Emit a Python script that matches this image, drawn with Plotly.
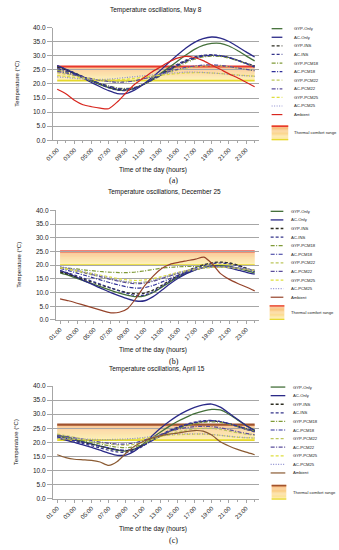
import plotly.graph_objects as go

W, H = 339, 550

# ---------------- data ----------------
hours = list(range(1, 25))
tick_hours = list(range(1, 24, 2))
tick_labels = [f"{h:02d}:00" for h in tick_hours]
y_ticks = [0, 5, 10, 15, 20, 25, 30, 35, 40]
y_tick_labels = [f"{v:.1f}" for v in y_ticks]

series_names = ["GYP-Only", "AC-Only", "GYP-INS", "AC-INS", "GYP-PCM18", "AC-PCM18",
                "GYP-PCM22", "AC-PCM22", "GYP-PCM25", "AC-PCM25", "Ambient"]
panel_titles = ["Temperature oscillations, May 8",
                "Temperature oscillations, December 25",
                "Temperature oscillations, April 15"]
panel_captions = ["(a)", "(b)", "(c)"]
comfort_label = "Thermal comfort range"
x_title = "Time of the day (hours)"
y_title = "Temperature (°C)"

# May 8
may_gyp_only = [26.3, 25.2, 23.9, 22.5, 21.1, 19.8, 18.7, 17.9, 17.8, 18.4, 19.8, 21.6,
                23.6, 25.8, 28.1, 30.3, 32.3, 33.7, 34.4, 34.4, 33.5, 31.9, 30.0, 28.2]
may_ac_only = [26.5, 25.2, 23.7, 22.1, 20.5, 19.0, 17.6, 16.6, 16.6, 17.8, 19.8, 22.2,
               24.8, 27.6, 30.3, 32.8, 34.8, 36.1, 36.7, 36.3, 35.1, 33.3, 31.4, 29.6]
may_gyp_ins = [26.0, 25.0, 23.8, 22.5, 21.2, 20.0, 18.9, 18.1, 17.9, 18.5, 19.8, 21.4,
               23.2, 25.0, 26.7, 28.2, 29.3, 30.0, 30.2, 30.0, 29.4, 28.5, 27.4, 26.4]
may_ac_ins = [26.5, 25.3, 24.0, 22.6, 21.2, 19.9, 18.7, 17.8, 17.6, 18.3, 19.7, 21.5,
              23.4, 25.3, 27.0, 28.5, 29.6, 30.2, 30.4, 30.1, 29.4, 28.4, 27.2, 26.0]
may_gyp_pcm18 = [25.0, 24.2, 23.2, 22.2, 21.2, 20.2, 19.3, 18.6, 18.4, 18.8, 19.8, 21.2,
                 22.8, 24.5, 26.1, 27.6, 28.8, 29.6, 29.9, 29.8, 29.2, 28.3, 27.3, 26.3]
may_ac_pcm18 = [25.5, 24.6, 23.5, 22.4, 21.3, 20.2, 19.2, 18.4, 18.2, 18.7, 19.8, 21.3,
                23.0, 24.8, 26.5, 28.0, 29.2, 29.9, 30.2, 30.0, 29.4, 28.4, 27.3, 26.3]
may_gyp_pcm22 = [24.0, 23.5, 22.9, 22.3, 21.8, 21.3, 21.0, 20.8, 20.9, 21.2, 21.8, 22.5,
                 23.3, 24.1, 24.9, 25.6, 26.1, 26.4, 26.5, 26.4, 26.1, 25.7, 25.2, 24.7]
may_ac_pcm22 = [24.5, 23.9, 23.2, 22.5, 21.9, 21.3, 20.9, 20.6, 20.7, 21.1, 21.8, 22.6,
                23.5, 24.4, 25.2, 25.9, 26.4, 26.7, 26.8, 26.6, 26.2, 25.7, 25.2, 24.7]
may_gyp_pcm25 = [23.0, 22.7, 22.3, 22.0, 21.7, 21.5, 21.4, 21.5, 21.7, 22.0, 22.4, 22.8,
                 23.1, 23.4, 23.7, 23.9, 24.0, 24.0, 23.9, 23.7, 23.5, 23.2, 23.0, 22.8]
may_ac_pcm25 = [22.5, 22.3, 22.0, 21.8, 21.6, 21.6, 21.7, 22.0, 22.3, 22.6, 22.9, 23.2,
                23.5, 23.8, 24.0, 24.2, 24.2, 24.1, 23.9, 23.7, 23.4, 23.1, 22.9, 22.7]
may_ambient = [18.1, 16.5, 14.2, 12.6, 11.9, 11.4, 11.2, 13.6, 16.8, 19.8, 22.0, 24.2,
               26.0, 27.8, 29.2, 29.8, 29.4, 28.3, 26.7, 25.2, 23.6, 22.2, 20.6, 19.0]
may_comfort = [21.2, 26.2]

# December 25
dec_gyp_only = [17.2, 16.3, 15.2, 14.1, 13.0, 11.9, 10.8, 9.8, 9.0, 8.5, 8.8, 10.0,
                11.9, 13.9, 15.7, 17.2, 18.4, 19.2, 19.7, 19.8, 19.5, 18.8, 18.0, 17.2]
dec_ac_only = [18.0, 16.9, 15.5, 14.1, 12.7, 11.3, 10.0, 8.8, 7.7, 6.9, 7.0, 8.5,
               10.8, 13.2, 15.3, 17.0, 18.3, 19.2, 19.6, 19.5, 19.0, 18.2, 17.4, 16.7]
dec_gyp_ins = [17.5, 16.6, 15.6, 14.6, 13.6, 12.6, 11.6, 10.7, 9.9, 9.5, 9.8, 10.9,
               12.6, 14.5, 16.3, 17.9, 19.2, 20.2, 20.9, 21.1, 20.8, 20.0, 18.9, 17.8]
dec_ac_ins = [18.0, 17.1, 16.1, 15.0, 13.9, 12.8, 11.7, 10.6, 9.6, 8.9, 9.1, 10.3,
              12.2, 14.2, 16.0, 17.6, 18.9, 19.9, 20.6, 20.8, 20.5, 19.7, 18.7, 17.8]
dec_gyp_pcm18 = [19.2, 18.9, 18.6, 18.2, 17.9, 17.6, 17.4, 17.3, 17.3, 17.5, 17.9, 18.4,
                 18.9, 19.2, 19.4, 19.5, 19.5, 19.5, 19.5, 19.4, 19.2, 18.9, 18.5, 18.1]
dec_ac_pcm18 = [18.8, 18.0, 17.1, 16.2, 15.3, 14.4, 13.5, 12.7, 12.0, 11.6, 11.8, 12.6,
                13.8, 15.1, 16.4, 17.5, 18.4, 19.0, 19.4, 19.5, 19.3, 18.9, 18.3, 17.7]
dec_gyp_pcm22 = [19.0, 18.4, 17.7, 17.0, 16.3, 15.6, 14.9, 14.3, 13.8, 13.6, 13.8, 14.4,
                 15.2, 16.1, 17.0, 17.8, 18.4, 18.9, 19.2, 19.3, 19.2, 18.9, 18.5, 18.1]
dec_ac_pcm22 = [19.3, 18.7, 18.0, 17.2, 16.4, 15.6, 14.8, 14.1, 13.5, 13.2, 13.4, 14.1,
                15.1, 16.1, 17.1, 17.9, 18.6, 19.1, 19.4, 19.5, 19.3, 19.0, 18.6, 18.1]
dec_gyp_pcm25 = [19.1, 18.6, 18.0, 17.4, 16.8, 16.2, 15.6, 15.0, 14.6, 14.4, 14.6, 15.1,
                 15.8, 16.6, 17.4, 18.1, 18.6, 19.0, 19.2, 19.3, 19.1, 18.8, 18.4, 18.0]
dec_ac_pcm25 = [19.5, 18.9, 18.2, 17.5, 16.8, 16.0, 15.2, 14.5, 13.9, 13.6, 13.8, 14.5,
                15.4, 16.4, 17.3, 18.1, 18.7, 19.1, 19.4, 19.4, 19.2, 18.9, 18.5, 18.1]
dec_ambient = [7.7, 7.0, 6.1, 5.2, 4.3, 3.4, 2.6, 2.8, 4.2, 8.0, 12.5, 16.0,
               18.8, 20.3, 21.0, 21.6, 22.2, 22.9, 20.4, 16.8, 14.8, 13.3, 12.0, 10.6]
dec_comfort = [20.0, 25.0]

# April 15
apr_gyp_only = [22.6, 21.9, 21.1, 20.3, 19.5, 18.7, 17.9, 17.2, 16.9, 17.6, 19.3, 21.5,
                23.6, 25.6, 27.4, 28.9, 30.2, 31.1, 31.7, 31.5, 30.0, 28.0, 26.0, 24.4]
apr_ac_only = [21.6, 20.8, 20.0, 19.1, 18.2, 17.2, 16.2, 15.4, 15.5, 16.9, 19.3, 22.2,
               24.9, 27.3, 29.4, 31.1, 32.4, 33.3, 33.6, 32.5, 30.4, 28.2, 26.0, 24.2]
apr_gyp_ins = [22.0, 21.4, 20.7, 20.0, 19.3, 18.6, 17.9, 17.3, 17.0, 17.5, 18.9, 20.7,
               22.4, 23.9, 25.1, 26.1, 26.9, 27.4, 27.6, 27.3, 26.6, 25.7, 24.8, 24.0]
apr_ac_ins = [21.8, 21.1, 20.4, 19.6, 18.8, 18.0, 17.2, 16.6, 16.4, 17.1, 18.7, 20.7,
              22.5, 24.1, 25.4, 26.4, 27.2, 27.7, 27.8, 27.4, 26.6, 25.6, 24.6, 23.7]
apr_gyp_pcm18 = [22.3, 21.8, 21.2, 20.6, 20.0, 19.4, 18.8, 18.3, 18.1, 18.4, 19.4, 20.8,
                 22.2, 23.6, 24.8, 25.8, 26.6, 27.1, 27.3, 27.1, 26.5, 25.7, 24.8, 24.0]
apr_ac_pcm18 = [22.0, 21.4, 20.8, 20.1, 19.4, 18.7, 18.0, 17.4, 17.2, 17.6, 18.8, 20.5,
                22.2, 23.8, 25.1, 26.2, 27.0, 27.5, 27.7, 27.4, 26.7, 25.8, 24.9, 24.0]
apr_gyp_pcm22 = [22.9, 22.4, 21.8, 21.2, 20.6, 20.0, 19.5, 19.1, 19.0, 19.3, 20.0, 21.0,
                 22.0, 22.9, 23.7, 24.3, 24.8, 25.0, 25.0, 24.6, 24.0, 23.4, 22.9, 22.5]
apr_ac_pcm22 = [22.5, 22.1, 21.6, 21.1, 20.6, 20.1, 19.7, 19.4, 19.4, 19.8, 20.6, 21.7,
                22.8, 23.8, 24.6, 25.2, 25.6, 25.7, 25.6, 25.2, 24.5, 23.8, 23.2, 22.7]
apr_gyp_pcm25 = [21.3, 21.2, 21.1, 21.0, 20.9, 20.8, 20.8, 20.8, 20.9, 21.1, 21.4, 21.8,
                 22.2, 22.5, 22.7, 22.8, 22.9, 22.9, 22.8, 22.5, 22.1, 21.8, 21.6, 21.5]
apr_ac_pcm25 = [21.5, 21.4, 21.3, 21.2, 21.1, 21.0, 21.0, 21.1, 21.2, 21.4, 21.7, 22.1,
                22.4, 22.7, 22.9, 23.0, 23.0, 23.0, 22.8, 22.5, 22.2, 21.9, 21.7, 21.6]
apr_ambient = [15.6, 14.6, 14.0, 13.8, 13.6, 13.0, 11.8, 13.2, 16.1, 18.6, 20.3, 21.5,
               22.3, 22.9, 23.3, 23.8, 24.2, 24.0, 22.6, 20.2, 18.7, 17.5, 16.5, 15.6]
apr_comfort = [20.8, 26.3]

panel_data = [
    [may_gyp_only, may_ac_only, may_gyp_ins, may_ac_ins, may_gyp_pcm18, may_ac_pcm18,
     may_gyp_pcm22, may_ac_pcm22, may_gyp_pcm25, may_ac_pcm25, may_ambient],
    [dec_gyp_only, dec_ac_only, dec_gyp_ins, dec_ac_ins, dec_gyp_pcm18, dec_ac_pcm18,
     dec_gyp_pcm22, dec_ac_pcm22, dec_gyp_pcm25, dec_ac_pcm25, dec_ambient],
    [apr_gyp_only, apr_ac_only, apr_gyp_ins, apr_ac_ins, apr_gyp_pcm18, apr_ac_pcm18,
     apr_gyp_pcm22, apr_ac_pcm22, apr_gyp_pcm25, apr_ac_pcm25, apr_ambient],
]
panel_comfort = [may_comfort, dec_comfort, apr_comfort]

# ---------------- styles ----------------
DASH = "3px,2px"
DOT = "1px,1.5px"
DASHDOT = "4px,1.5px,1px,1.5px"
line_styles = [
    dict(color="#44703a", dash="solid", width=1.3),
    dict(color="#2b2a88", dash="solid", width=1.3),
    dict(color="#2e2e22", dash=DASH, width=1.3),
    dict(color="#34348a", dash=DASH, width=1.2),
    dict(color="#7f9a37", dash=DASHDOT, width=1.2),
    dict(color="#30309a", dash=DASHDOT, width=1.2),
    dict(color="#bcc65c", dash=DASH, width=1.2),
    dict(color="#5b4e9b", dash=DASHDOT, width=1.2),
    dict(color="#dede3e", dash=DASH, width=1.2),
    dict(color="#8c8cd0", dash=DOT, width=1.2),
]
ambient_colors = ["#d8261e", "#95432a", "#8a5a32"]
band_top_colors = ["#e8382c", "#ec5848", "#a0522d"]
band_stops = [(0.0, (253, 238, 160)), (0.35, (252, 222, 150)),
              (0.75, (249, 196, 128)), (1.0, (246, 170, 110))]
band_bottom_color = "#e6d82a"

FONT = "Liberation Sans, Arial, sans-serif"
GRID = "#a6a6a6"

# geometry in pixels
panels = [
    dict(top=24, bottom=138, left=46, right=257, title_y=6, title_x=152, xt_y=168, cap_y=179,
         yt_x=9, leg_top=25, leg_x0=270, leg_x1=281, leg_tx=291, box=(270, 123, 287, 138)),
    dict(top=209, bottom=320, left=49, right=257, title_y=190, title_x=160, xt_y=350, cap_y=362,
         yt_x=11, leg_top=210, leg_x0=269, leg_x1=282, leg_tx=288, box=(268, 305, 283, 320)),
    dict(top=387, bottom=501, left=46, right=257, title_y=370, title_x=153, xt_y=532, cap_y=543,
         yt_x=9, leg_top=388, leg_x0=269, leg_x1=284, leg_tx=290, box=(270, 487, 285, 502)),
]
LEG_FONT = 4.2


def px(x):
    return x / W


def py(y):
    return 1 - y / H


def interp_color(t):
    for (t0, c0), (t1, c1) in zip(band_stops[:-1], band_stops[1:]):
        if t0 <= t <= t1:
            f = (t - t0) / (t1 - t0) if t1 > t0 else 0
            c = [round(a + (b - a) * f) for a, b in zip(c0, c1)]
            return f"rgb({c[0]},{c[1]},{c[2]})"
    c = band_stops[-1][1]
    return f"rgb({c[0]},{c[1]},{c[2]})"


fig = go.Figure()
shapes = []
annotations = []
layout_axes = {}

for i, (p, data, comfort) in enumerate(zip(panels, panel_data, panel_comfort)):
    sfx = "" if i == 0 else str(i + 1)
    xref, yref = "x" + sfx, "y" + sfx
    for j, (name, vals) in enumerate(zip(series_names, data)):
        st = line_styles[j] if j < 10 else dict(color=ambient_colors[i], dash="solid", width=1.2)
        fig.add_trace(go.Scatter(x=hours, y=vals, mode="lines", name=name,
                                 xaxis=xref, yaxis=yref, showlegend=False,
                                 line=dict(color=st["color"], dash=st["dash"], width=st["width"],
                                           shape="spline", smoothing=0.6)))
    layout_axes["xaxis" + sfx] = dict(
        domain=[px(p["left"]), px(p["right"])], anchor=yref, range=[0.5, 24.5],
        tickmode="array", tickvals=tick_hours, ticktext=tick_labels, tickangle=-45,
        tickfont=dict(size=6, family=FONT, color="#222"), showgrid=False, zeroline=False,
        showline=True, linecolor=GRID, linewidth=1, ticks="outside", ticklen=3, tickcolor=GRID,
        minor=dict(tickmode="linear", tick0=0, dtick=1, ticks="outside", ticklen=2, tickcolor=GRID),
        fixedrange=True)
    layout_axes["yaxis" + sfx] = dict(
        domain=[py(p["bottom"]), py(p["top"])], anchor=xref, range=[0, 40],
        tickmode="array", tickvals=y_ticks, ticktext=y_tick_labels,
        tickfont=dict(size=6.5, family=FONT, color="#222"), showgrid=True, gridcolor=GRID,
        gridwidth=1.2, zeroline=False, showline=True, linecolor=GRID, linewidth=1,
        ticks="outside", ticklen=5, tickcolor=GRID, fixedrange=True)

    lo, hi = comfort
    n = 30
    for k in range(n):
        y0 = lo + (hi - lo) * k / n
        y1 = lo + (hi - lo) * (k + 1) / n
        shapes.append(dict(type="rect", xref=xref, yref=yref, x0=hours[0], x1=hours[-1],
                           y0=y0, y1=y1, fillcolor=interp_color((k + 0.5) / n),
                           line=dict(width=0), layer="below"))
    shapes.append(dict(type="line", xref=xref, yref=yref, x0=hours[0], x1=hours[-1],
                       y0=hi, y1=hi, line=dict(color=band_top_colors[i], width=2.2),
                       layer="below"))
    shapes.append(dict(type="line", xref=xref, yref=yref, x0=hours[0], x1=hours[-1],
                       y0=lo, y1=lo, line=dict(color=band_bottom_color, width=1.6),
                       layer="below"))

    annotations.append(dict(text=panel_titles[i], x=px(p["title_x"]), y=py(p["title_y"]),
                            xref="paper", yref="paper", showarrow=False, xanchor="center",
                            yanchor="middle", font=dict(size=6.5, family=FONT, color="#111")))
    annotations.append(dict(text=x_title, x=px(148), y=py(p["xt_y"]), xref="paper",
                            yref="paper", showarrow=False, xanchor="center", yanchor="middle",
                            font=dict(size=6.6, family=FONT, color="#111")))
    annotations.append(dict(text=panel_captions[i], x=px(170), y=py(p["cap_y"]), xref="paper",
                            yref="paper", showarrow=False, xanchor="center", yanchor="middle",
                            font=dict(size=8, family="Liberation Serif, Times New Roman, serif",
                                      color="#111")))
    annotations.append(dict(text=y_title, x=px(p["yt_x"]), y=py((p["top"] + p["bottom"]) / 2),
                            xref="paper", yref="paper", showarrow=False, textangle=-90,
                            xanchor="center", yanchor="middle",
                            font=dict(size=6, family=FONT, color="#111")))

    for j, name in enumerate(series_names):
        yy = p["leg_top"] + j * 8.7
        st = line_styles[j] if j < 10 else dict(color=ambient_colors[i], dash="solid", width=1.2)
        shapes.append(dict(type="line", xref="paper", yref="paper", x0=px(p["leg_x0"]),
                           x1=px(p["leg_x1"]), y0=py(yy), y1=py(yy),
                           line=dict(color=st["color"], dash=st["dash"], width=st["width"])))
        annotations.append(dict(text=name, x=px(p["leg_tx"]), y=py(yy), xref="paper",
                                yref="paper", showarrow=False, xanchor="left", yanchor="middle",
                                font=dict(size=LEG_FONT, family=FONT, color="#222")))
    bx0, by0, bx1, by1 = p["box"]
    nb = 12
    for k in range(nb):
        ya = by1 - (by1 - by0) * k / nb
        yb = by1 - (by1 - by0) * (k + 1) / nb
        shapes.append(dict(type="rect", xref="paper", yref="paper", x0=px(bx0), x1=px(bx1),
                           y0=py(ya), y1=py(yb), fillcolor=interp_color((k + 0.5) / nb),
                           line=dict(width=0)))
    shapes.append(dict(type="line", xref="paper", yref="paper", x0=px(bx0), x1=px(bx1),
                       y0=py(by0 + 0.8), y1=py(by0 + 0.8),
                       line=dict(color=band_top_colors[i], width=1.6)))
    shapes.append(dict(type="line", xref="paper", yref="paper", x0=px(bx0), x1=px(bx1),
                       y0=py(by1 - 0.6), y1=py(by1 - 0.6),
                       line=dict(color=band_bottom_color, width=1.2)))
    annotations.append(dict(text=comfort_label, x=px(p["leg_tx"]), y=py((by0 + by1) / 2),
                            xref="paper", yref="paper", showarrow=False, xanchor="left",
                            yanchor="middle", font=dict(size=LEG_FONT, family=FONT, color="#222")))

fig.update_layout(width=W, height=H, margin=dict(l=0, r=0, t=0, b=0),
                  paper_bgcolor="white", plot_bgcolor="white", showlegend=False,
                  shapes=shapes, annotations=annotations, **layout_axes)

fig.write_html("out.html", config={"displayModeBar": False},
               post_script="document.body.style.margin='0';document.body.style.overflow='hidden';")
